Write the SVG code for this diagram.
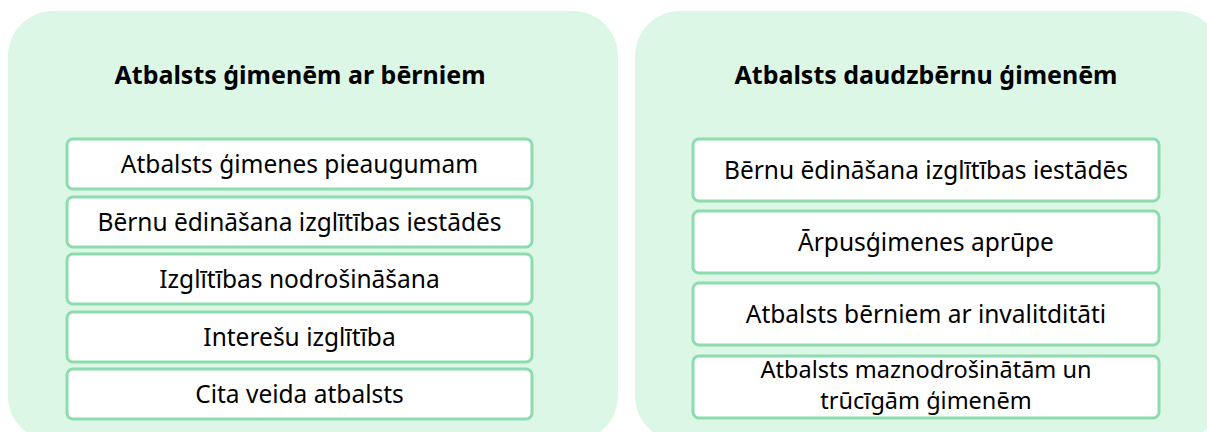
<svg xmlns="http://www.w3.org/2000/svg" width="1207" height="432" viewBox="0 0 1207 432">
<style>
.panel{fill:#dcf7e6;}
.box{fill:#ffffff;stroke:#8ddcae;stroke-width:3;}
.title{font-family:"Noto Sans","Open Sans",sans-serif;font-size:25px;font-weight:bold;fill:#000;text-anchor:middle;}
.lbl{font-family:"Noto Sans","Open Sans",sans-serif;font-size:24.5px;fill:#000;text-anchor:middle;}
.lbl2{font-family:"Noto Sans","Open Sans",sans-serif;font-size:23.5px;fill:#000;text-anchor:middle;}
</style>
<g id="panel-left">
<rect class="panel" x="8" y="11" width="610" height="430" rx="45"/>
<text class="title" x="300" y="84">Atbalsts ģimenēm ar bērniem</text>
</g>
<g id="panel-right">
<rect class="panel" x="635" y="11" width="586" height="430" rx="45"/>
<text class="title" x="926" y="84">Atbalsts daudzbērnu ģimenēm</text>
</g>
<g id="l1"><rect class="box" x="67" y="139" width="465" height="50" rx="6"/><text class="lbl" x="299.5" y="173">Atbalsts ģimenes pieaugumam</text></g>
<g id="l2"><rect class="box" x="67" y="197" width="465" height="50" rx="6"/><text class="lbl" x="299.5" y="231">Bērnu ēdināšana izglītības iestādēs</text></g>
<g id="l3"><rect class="box" x="67" y="254" width="465" height="50" rx="6"/><text class="lbl" x="299.5" y="288">Izglītības nodrošināšana</text></g>
<g id="l4"><rect class="box" x="67" y="312" width="465" height="50" rx="6"/><text class="lbl" x="299.5" y="346">Interešu izglītība</text></g>
<g id="l5"><rect class="box" x="67" y="369" width="465" height="50" rx="6"/><text class="lbl" x="299.5" y="403">Cita veida atbalsts</text></g>
<g id="r1"><rect class="box" x="693" y="139" width="466" height="62" rx="6"/><text class="lbl" x="926" y="179">Bērnu ēdināšana izglītības iestādēs</text></g>
<g id="r2"><rect class="box" x="693" y="211" width="466" height="62" rx="6"/><text class="lbl" x="926" y="251">Ārpusģimenes aprūpe</text></g>
<g id="r3"><rect class="box" x="693" y="283" width="466" height="62" rx="6"/><text class="lbl" x="926" y="323">Atbalsts bērniem ar invalitditāti</text></g>
<g id="r4"><rect class="box" x="693" y="356" width="466" height="62" rx="6"/><text class="lbl2" x="926" y="378">Atbalsts maznodrošinātām un</text><text class="lbl2" x="926" y="409">trūcīgām ģimenēm</text></g>
<g id="connectors"/>
</svg>
